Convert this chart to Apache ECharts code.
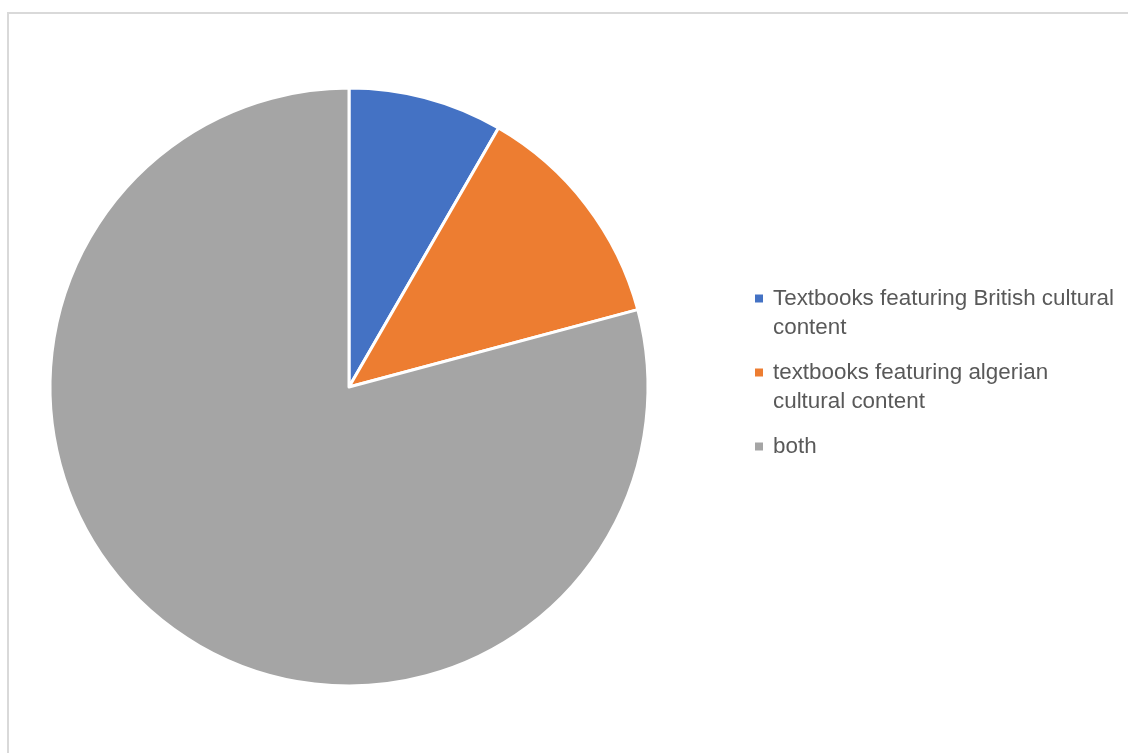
<!DOCTYPE html>
<html>
<head>
<meta charset="utf-8">
<style>
  html, body { margin: 0; padding: 0; background: #ffffff; }
  #chart { width: 1128px; height: 753px; }
</style>
<script src="https://cdn.jsdelivr.net/npm/echarts@6/dist/echarts.min.js"></script>
</head>
<body>
<div id="chart"></div>
<script>
// Categories and their counts
const categories = [
  'Textbooks featuring British cultural content',
  'textbooks featuring algerian cultural content',
  'both'
];
const values = [2, 3, 19];
const colors = ['#4472C4', '#ED7D31', '#A5A5A5'];

// Legend text is wrapped onto two lines
const legendLines = {
  'Textbooks featuring British cultural content': 'Textbooks featuring British cultural\ncontent',
  'textbooks featuring algerian cultural content': 'textbooks featuring algerian\ncultural content',
  'both': 'both\n '
};

const chart = echarts.init(document.getElementById('chart'));

chart.setOption({
  animation: false,
  color: colors,
  graphic: [{
    type: 'rect',
    silent: true,
    shape: { x: 8, y: 13, width: 1300, height: 900 },
    style: { fill: 'none', stroke: '#d9d9d9', lineWidth: 2 }
  }],
  legend: {
    orient: 'vertical',
    left: 755,
    top: 255,
    padding: 0,
    itemWidth: 8,
    itemHeight: 8,
    itemGap: -13,
    icon: 'rect',
    selectedMode: false,
    itemStyle: { borderWidth: 0 },
    // a leading blank line keeps the marker level with the first text line
    formatter: name => '\n' + legendLines[name],
    textStyle: {
      fontFamily: 'Liberation Sans',
      fontSize: 22.4,
      lineHeight: 29,
      color: '#595959',
      padding: [0, 0, 0, 5]
    },
    data: categories
  },
  series: [{
    type: 'pie',
    center: [349, 387],
    radius: 299,
    startAngle: 90,
    clockwise: true,
    label: { show: false },
    labelLine: { show: false },
    emphasis: { disabled: true },
    itemStyle: { borderColor: '#ffffff', borderWidth: 3 },
    data: categories.map((c, i) => ({ name: c, value: values[i] }))
  }]
});
</script>
</body>
</html>
